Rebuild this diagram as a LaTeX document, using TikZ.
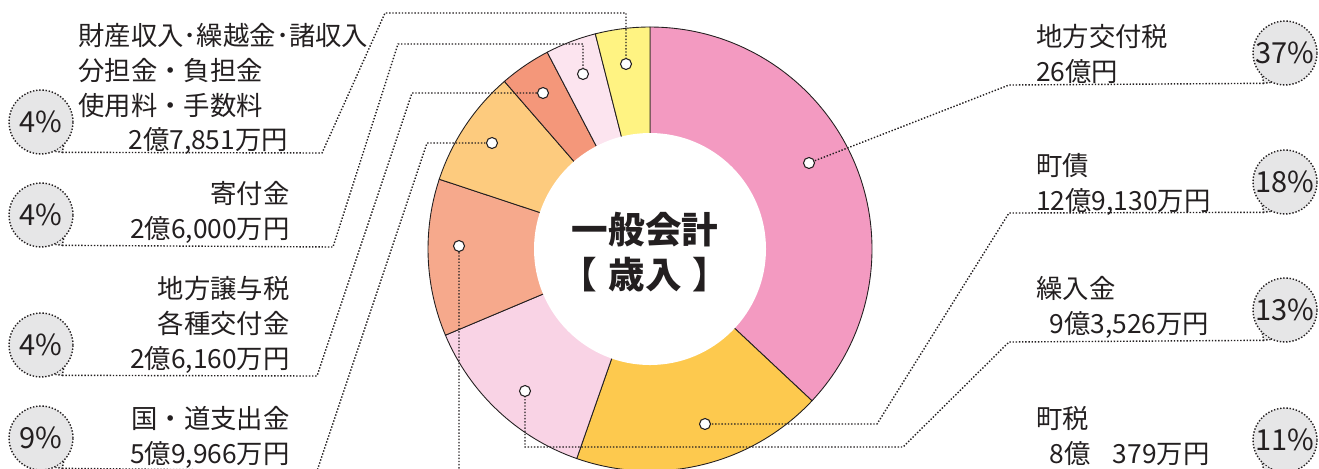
\documentclass[tikz,border=0pt]{standalone}
\usepackage{fontspec}
\setmainfont{Noto Sans CJK JP}

\definecolor{ink}{HTML}{231F20}
\definecolor{bubblegray}{HTML}{E6E6E7}
\definecolor{cKoufu}{HTML}{F39AC1}
\definecolor{cChousai}{HTML}{FDC94E}
\definecolor{cKuriire}{HTML}{F9D3E5}
\definecolor{cChouzei}{HTML}{F6A98C}
\definecolor{cKokudou}{HTML}{FDCB7E}
\definecolor{cJouyo}{HTML}{F4977A}
\definecolor{cKifu}{HTML}{FCE4EF}
\definecolor{cZaisan}{HTML}{FFF382}

\begin{document}
\begin{tikzpicture}[x=0.02cm,y=0.02cm,
  slice/.style={draw=ink,line width=0.5pt},
  leader/.style={draw=ink,line width=0.8pt,densely dotted},
  dot/.style={circle,fill=white,draw=ink,line width=0.6pt,minimum size=0.22cm,inner sep=0pt},
  bubble/.style={circle,fill=bubblegray,draw=ink,line width=0.8pt,densely dotted,
    minimum size=1.28cm,inner sep=0pt,text=ink,font=\fontsize{16.5}{18}\selectfont},
  tail/.style={fill=bubblegray,draw=ink,line width=0.8pt,densely dotted},
  lbl/.style={inner sep=0pt,text=ink,font=\fontsize{15}{19.8}\selectfont},
  title/.style={inner sep=0pt,text=ink,align=center,font=\fontsize{20.8}{26}\selectfont\bfseries}]
% Configurable parameters
\def\outerradius{222}
\def\innerradius{116}

\useasboundingbox (0,0) rectangle (1319,-468);
\clip (0,0) rectangle (1319,-468);

% Doughnut
\begin{scope}[shift={(650,-249)}]
\foreach \from/\to/\col in {90/-43.14/cKoufu, -43.14/-109.27/cChousai,
    -109.27/-157.16/cKuriire, -157.16/-198.32/cChouzei, -198.32/-229.03/cKokudou,
    -229.03/-242.42/cJouyo, -242.42/-255.74/cKifu, -255.74/-270/cZaisan}
  \path[slice,fill=\col] (0,0) -- (\from:\outerradius) arc (\from:\to:\outerradius) -- cycle;
\fill[white] (0,0) circle (\innerradius);
\end{scope}
\node[title] (title) at (645,-252) {一般会計\\【\hspace{0.3em}歳入\hspace{0.3em}】};

% Dots on the slices
\node[dot] (dKoufu) at (809,-163) {};
\node[dot] (dChousai) at (705,-424) {};
\node[dot] (dKuriire) at (525,-391) {};
\node[dot] (dChouzei) at (459,-246) {};
\node[dot] (dKokudou) at (492,-143) {};
\node[dot] (dJouyo) at (543,-93) {};
\node[dot] (dKifu) at (583,-74) {};
\node[dot] (dZaisan) at (626,-64) {};

% Percentages
\node[bubble] (bKoufu) at (1285,-53) {37\%};
\node[bubble] (bChousai) at (1285,-182) {18\%};
\node[bubble] (bKuriire) at (1285,-310) {13\%};
\node[bubble] (bChouzei) at (1285,-440) {11\%};
\node[bubble] (bZaisan) at (41,-122) {4\%};
\node[bubble] (bKifu) at (41,-215) {4\%};
\node[bubble] (bJouyo) at (41,-345) {4\%};
\node[bubble] (bKokudou) at (41,-438) {9\%};

% Tails
\foreach \n in {Koufu,Chousai,Kuriire,Chouzei} {
  \coordinate (t\n) at ([shift={(-125:37)}]b\n.center);
  \path[tail] (b\n.-116) -- (t\n) -- (b\n.-134);
}
\foreach \n in {Zaisan,Kifu,Jouyo,Kokudou} {
  \coordinate (t\n) at ([shift={(-55:37)}]b\n.center);
  \path[tail] (b\n.-46) -- (t\n) -- (b\n.-64);
}

% Labels
\node[lbl,anchor=north west,align=left] (lKoufu) at (1036,-24) {地方交付税\\26億円};
\node[lbl,anchor=north west,align=left] (lChousai) at (1036,-153) {町債\\12億9,130万円};
\node[lbl,anchor=north west,align=left] (lKuriire) at (1036,-276) {繰入金\\\hspace*{0.5em}9億3,526万円};
\node[lbl,anchor=north west,align=left] (lChouzei) at (1036,-406) {町税\\\hspace*{0.5em}8億\hspace{0.85em}379万円};
\node[lbl,anchor=north west,align=left] (lZaisan) at (78,-23)
  {財産収入･繰越金･諸収入\\分担金・負担金\\使用料・手数料\\\hspace*{1.9em}2億7,851万円};
\node[lbl,anchor=north east,align=right] (lKifu) at (290,-181) {寄付金\\2億6,000万円};
\node[lbl,anchor=north east,align=right] (lJouyo) at (290,-276) {地方譲与税\\各種交付金\\2億6,160万円};
\node[lbl,anchor=north east,align=right] (lKokudou) at (290,-406) {国・道支出金\\5億9,966万円};

% Leaders
\coordinate (kKoufu) at (1009,-85);
\draw[leader] (tKoufu) -- (kKoufu) -- (dKoufu);
\coordinate (kChousai1) at (1009,-213);
\coordinate (kChousai2) at (877,-424);
\draw[leader] (tChousai) -- (kChousai1) -- (kChousai2) -- (dChousai);
\coordinate (kKuriire1) at (1009,-342);
\coordinate (kKuriire2) at (903,-447);
\coordinate (kKuriire3) at (525,-447);
\draw[leader] (tKuriire) -- (kKuriire1) -- (kKuriire2) -- (kKuriire3) -- (dKuriire);
\coordinate (kChouzei1) at (1009,-472);
\coordinate (kChouzei2) at (980,-500);
\coordinate (kChouzei3) at (459,-500);
\draw[leader] (tChouzei) -- (kChouzei1) -- (kChouzei2) -- (kChouzei3) -- (dChouzei);
\coordinate (kZaisan1) at (322,-153);
\coordinate (kZaisan2) at (385,-13);
\coordinate (kZaisan3) at (626,-13);
\draw[leader] (tZaisan) -- (kZaisan1) -- (kZaisan2) -- (kZaisan3) -- (dZaisan);
\coordinate (kKifu1) at (333,-247);
\coordinate (kKifu2) at (398,-44);
\coordinate (kKifu3) at (583,-44);
\draw[leader] (tKifu) -- (kKifu1) -- (kKifu2) -- (kKifu3) -- (dKifu);
\coordinate (kJouyo1) at (317,-376);
\coordinate (kJouyo2) at (412,-93);
\draw[leader] (tJouyo) -- (kJouyo1) -- (kJouyo2) -- (dJouyo);
\coordinate (kKokudou1) at (317,-471);
\coordinate (kKokudou2) at (427,-143);
\draw[leader] (tKokudou) -- (kKokudou1) -- (kKokudou2) -- (dKokudou);
\end{tikzpicture}
\end{document}
